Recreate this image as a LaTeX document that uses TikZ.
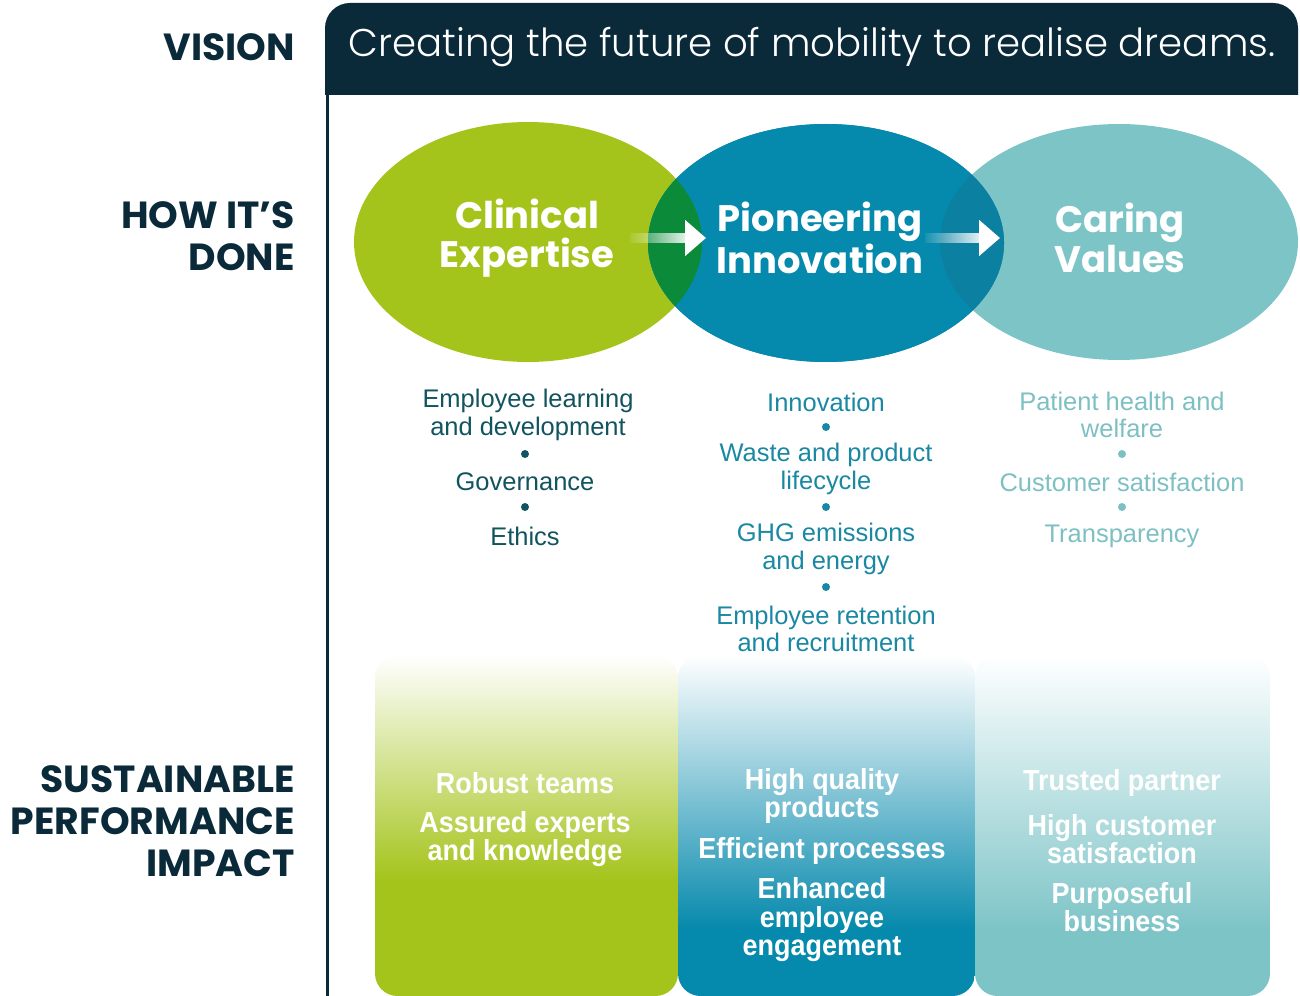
\documentclass[tikz,border=0pt]{standalone}
\usepackage{fontspec}
\setmainfont{Liberation Sans}
\newfontfamily\headfont{Poppins}
\newfontfamily\visionfont{Poppins}[UprightFont={* Light}]
\newfontfamily\narrowfont{Liberation Sans}[FakeStretch=0.93]
\usetikzlibrary{shapes.geometric, arrows.meta, fadings, positioning}

\definecolor{navy}{HTML}{0A2A3A}
\definecolor{cgreen}{HTML}{A4C41C}
\definecolor{cblue}{HTML}{0589AC}
\definecolor{cteal}{HTML}{7DC4C7}
\definecolor{cdkgreen}{HTML}{0B8A3A}
\definecolor{cdkblue}{HTML}{0B80A0}
\definecolor{txtone}{HTML}{11545F}
\definecolor{txttwo}{HTML}{1A88A3}
\definecolor{txtthree}{HTML}{7DC0C4}

\tikzstyle{rowlabel} = [anchor=east, align=right, text=navy, inner sep=0pt, font=\headfont\bfseries\fontsize{21.5}{24}\selectfont]
\tikzstyle{bubble} = [ellipse, inner sep=0pt]
\tikzstyle{bubbletitle} = [text=white, align=center, font=\headfont\bfseries\fontsize{21}{22.5}\selectfont]
\tikzstyle{topic} = [align=center, inner sep=0pt, font=\fontsize{14.5}{15.5}\selectfont]
\tikzstyle{dot} = [circle, inner sep=0pt, minimum size=0.16cm]
\tikzstyle{impact} = [text=white, align=center, inner sep=0pt, font=\narrowfont\bfseries\fontsize{16.5}{16.2}\selectfont]
\tikzstyle{shaft} = [white, line width=0.2cm, path fading=west]
\tikzstyle{head} = [white, line width=0.2cm, -{Triangle[length=0.42cm, width=0.7cm]}]

\begin{document}
\begin{tikzpicture}[x=0.02cm, y=-0.02cm]

    \useasboundingbox (0,0) rectangle (1300,996);

    % row labels
    \node [rowlabel] (vision) at (295,47) {VISION};
    \node [rowlabel] (how) at (295,236) {HOW IT’S\\DONE};
    \node [rowlabel] (impact) at (295,821) {SUSTAINABLE\\PERFORMANCE\\IMPACT};

    % banner and frame line
    \fill [navy] (325,95) {[rounded corners=0.5cm] -- (325,3) -- (1298,3)} -- (1298,95) -- cycle;
    \draw [navy, line width=0.06cm] (327,90) -- (327,996);
    \node [text=white, font=\visionfont\fontsize{22}{26}\selectfont] (dream) at (812,47) {Creating the future of mobility to realise dreams.};

    % impact columns
    \begin{scope}
        \clip [rounded corners=0.45cm] (375,655) rectangle (678,996);
        \shade [top color=white, bottom color=cgreen] (375,655) rectangle (678,880);
        \fill [cgreen] (375,879) rectangle (678,996);
    \end{scope}
    \begin{scope}
        \clip [rounded corners=0.45cm] (678,655) rectangle (975,996);
        \shade [top color=white, bottom color=cblue] (678,655) rectangle (975,930);
        \fill [cblue] (678,929) rectangle (975,996);
    \end{scope}
    \begin{scope}
        \clip [rounded corners=0.45cm] (975,655) rectangle (1270,996);
        \shade [top color=white, bottom color=cteal] (975,655) rectangle (1270,930);
        \fill [cteal] (975,929) rectangle (1270,996);
    \end{scope}

    % bubbles
    \node [bubble, fill=cgreen, minimum width=6.96cm, minimum height=4.8cm] (clin) at (528,242) {};
    \node [bubble, fill=cblue, minimum width=7.12cm, minimum height=4.76cm] (pion) at (826,243) {};
    \node [bubble, fill=cteal, minimum width=7.16cm, minimum height=4.72cm] (care) at (1119,242) {};
    \draw [fill=cblue, draw=none] (826,243) ellipse [x radius=178, y radius=119];
    \begin{scope}
        \clip (528,242) ellipse [x radius=174, y radius=120];
        \fill [cdkgreen] (826,243) ellipse [x radius=178, y radius=119];
    \end{scope}
    \begin{scope}
        \clip (826,243) ellipse [x radius=178, y radius=119];
        \fill [cdkblue] (1119,242) ellipse [x radius=179, y radius=118];
    \end{scope}

    % arrows
    \coordinate (a1s) at (630,238);
    \coordinate (a1m) at (688,238);
    \coordinate (a1e) at (706,238);
    \coordinate (a2s) at (925,238);
    \coordinate (a2m) at (982,238);
    \coordinate (a2e) at (1000,238);
    \draw [shaft] (a1s) -- (a1m);
    \draw [head] (a1m) -- (a1e);
    \draw [shaft] (a2s) -- (a2m);
    \draw [head] (a2m) -- (a2e);

    \node [bubbletitle] (clint) at (527,238) {Clinical\\Expertise};
    \node [bubbletitle] (piont) at (820,238) {Pioneering\\Innovation};
    \node [bubbletitle] (caret) at (1120,238) {Caring\\Values};

    % topics
    \node [topic, text=txtone] (t11) at (528,415) {Employee learning\\and development};
    \node [dot, fill=txtone] (d11) at (525,454) {};
    \node [topic, text=txtone] (t12) at (525,482) {Governance};
    \node [dot, fill=txtone] (d12) at (525,507) {};
    \node [topic, text=txtone] (t13) at (525,536) {Ethics};

    \node [topic, text=txttwo] (t21) at (826,402) {Innovation};
    \node [dot, fill=txttwo] (d21) at (826,427) {};
    \node [topic, text=txttwo] (t22) at (826,469) {Waste and product\\lifecycle};
    \node [dot, fill=txttwo] (d22) at (826,507) {};
    \node [topic, text=txttwo] (t23) at (826,549) {GHG emissions\\and energy};
    \node [dot, fill=txttwo] (d23) at (826,587) {};
    \node [topic, text=txttwo] (t24) at (826,629) {Employee retention\\and recruitment};

    \node [topic, text=txtthree] (t31) at (1122,415) {Patient health and\\welfare};
    \node [dot, fill=txtthree] (d31) at (1122,454) {};
    \node [topic, text=txtthree] (t32) at (1122,482) {Customer satisfaction};
    \node [dot, fill=txtthree] (d32) at (1122,507) {};
    \node [topic, text=txtthree] (t33) at (1122,536) {Transparency};

    % impacts
    \node [impact] (i11) at (525,783) {Robust teams};
    \node [impact] (i12) at (525,839) {Assured experts\\and knowledge};
    \node [impact] (i21) at (822,796) {High quality\\products};
    \node [impact] (i22) at (822,851) {Efficient processes};
    \node [impact] (i23) at (822,920) {Enhanced\\employee\\engagement};
    \node [impact] (i31) at (1122,783) {Trusted partner};
    \node [impact] (i32) at (1122,839) {High customer\\satisfaction};
    \node [impact] (i33) at (1122,907) {Purposeful\\business};

\end{tikzpicture}
\end{document}
